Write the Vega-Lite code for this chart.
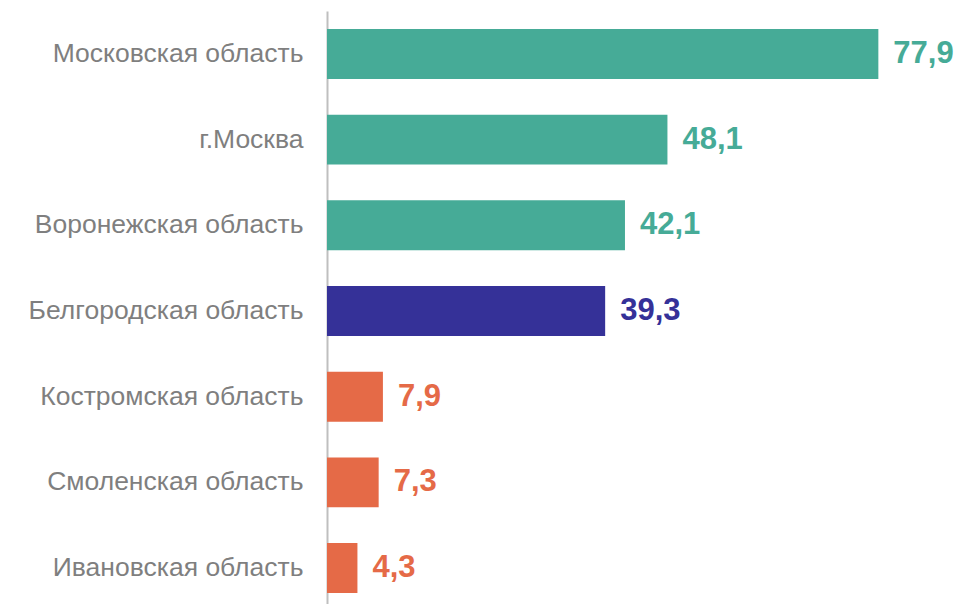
{
  "$schema": "https://vega.github.io/schema/vega-lite/v6.json",
  "autosize": "none",
  "padding": {"left": 327, "top": 11, "right": 0, "bottom": 0},
  "width": 637,
  "height": 600,
  "background": "white",
  "config": {
    "view": {"stroke": null},
    "font": "Liberation Sans",
    "locale": {"number": {"decimal": ",", "thousands": " ", "grouping": [3], "currency": ["", " ₽"]}}
  },
  "data": {"values": [
    {"region": "Московская область", "value": 77.9, "group": "top"},
    {"region": "г.Москва", "value": 48.1, "group": "top"},
    {"region": "Воронежская область", "value": 42.1, "group": "top"},
    {"region": "Белгородская область", "value": 39.3, "group": "own"},
    {"region": "Костромская область", "value": 7.9, "group": "bottom"},
    {"region": "Смоленская область", "value": 7.3, "group": "bottom"},
    {"region": "Ивановская область", "value": 4.3, "group": "bottom"}
  ]},
  "encoding": {
    "y": {"field": "region", "type": "nominal", "sort": null,
      "scale": {"paddingInner": 0.417, "paddingOuter": 0.21},
      "axis": {"title": null, "ticks": false, "labelFontSize": 26.5, "labelColor": "#7f7f7f", "labelPadding": 24, "domainColor": "#bfbfbf", "domainWidth": 2, "labelLimit": 400}},
    "x": {"field": "value", "type": "quantitative", "scale": {"domain": [0, 90]}, "axis": null},
    "color": {"field": "group", "type": "nominal", "legend": null,
      "scale": {"domain": ["top", "own", "bottom"], "range": ["#46ab97", "#353198", "#e56a47"]}}
  },
  "layer": [
    {"mark": {"type": "bar"}},
    {"mark": {"type": "text", "align": "left", "baseline": "middle", "dx": 15, "fontSize": 31, "fontWeight": "bold"},
      "encoding": {"text": {"field": "value", "type": "quantitative", "format": ".1f"}}}
  ]
}
